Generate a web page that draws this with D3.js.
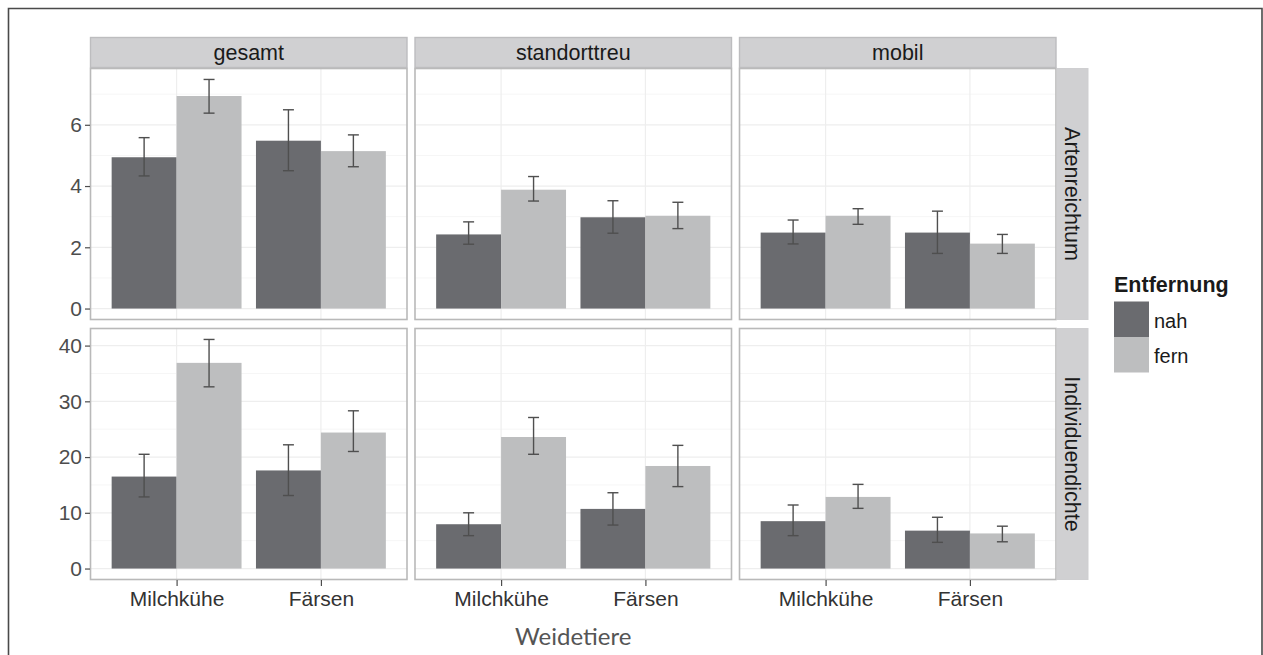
<!DOCTYPE html>
<html>
<head>
<meta charset="utf-8">
<script src="https://cdn.jsdelivr.net/npm/d3@7"></script>
<style>
  body { margin: 0; background: #fff; }
  text { font-family: "Liberation Sans", Arial, sans-serif; }
</style>
</head>
<body>
<div id="chart"></div>
<script>
var categories = ["Milchkühe", "Färsen"];
var groups = ["gesamt", "standorttreu", "mobil"];
var measures = ["Artenreichtum", "Individuendichte"];
var distances = ["nah", "fern"];

// order in each row: Milchkühe nah, Milchkühe fern, Färsen nah, Färsen fern
var artenMean = [[4.94, 6.94, 5.48, 5.14], [2.42, 3.88, 2.98, 3.03], [2.48, 3.03, 2.48, 2.12]];
var artenLow  = [[4.33, 6.38, 4.50, 4.63], [2.10, 3.51, 2.46, 2.61], [2.11, 2.75, 1.80, 1.80]];
var artenHigh = [[5.58, 7.48, 6.49, 5.67], [2.83, 4.31, 3.52, 3.47], [2.89, 3.26, 3.18, 2.42]];

var indivMean = [[16.5, 36.9, 17.6, 24.4], [7.95, 23.6, 10.7, 18.4], [8.5, 12.85, 6.8, 6.3]];
var indivLow  = [[12.85, 32.6, 13.1, 21.0], [5.9, 20.5, 7.8, 14.7], [5.9, 10.8, 4.7, 4.8]];
var indivHigh = [[20.5, 41.1, 22.2, 28.3], [10.0, 27.1, 13.6, 22.1], [11.4, 15.1, 9.2, 7.6]];

var artenTicks = [0, 2, 4, 6];
var indivTicks = [0, 10, 20, 30, 40];

var means = [artenMean, indivMean],
    lows = [artenLow, indivLow],
    highs = [artenHigh, indivHigh],
    yTicks = [artenTicks, indivTicks];

var W = 1263, H = 655;
var left = 90, panelW = 317.5, gap = 7,
    stripTop = 37, stripH = 31, rowTop = [68, 328], panelH = 252,
    rstripW = 32;
var color = d3.scaleOrdinal().domain(distances).range(["#6a6b6f", "#bdbebf"]);

var svg = d3.select("#chart").append("svg")
    .attr("width", W).attr("height", H);

// outer frame
svg.append("path")
    .attr("d", "M8.5," + H + "V8.5H1262V" + H)
    .attr("fill", "none").attr("stroke", "#4a4a4a").attr("stroke-width", 1.6);

// discrete x, with ggplot-like 0.6 expansion
var x = d3.scaleLinear().domain([0.4, 2.6]).range([0, panelW]);

measures.forEach(function(m, r) {
  var maxV = d3.max(highs[r], function(a) { return d3.max(a); });
  var pad = maxV * 0.05;
  var y = d3.scaleLinear().domain([-pad, maxV + pad]).range([panelH, 0]);
  var minor = yTicks[r].map(function(t, i) { return t + (yTicks[r][1] - yTicks[r][0]) / 2; })
      .filter(function(v) { return y(v) > 0; });

  groups.forEach(function(g, c) {
    var px = left + c * (panelW + gap), py = rowTop[r];
    var p = svg.append("g").attr("transform", "translate(" + px + "," + py + ")");

    p.append("rect").attr("width", panelW).attr("height", panelH).attr("fill", "#fff");

    // grid
    p.selectAll(".minor").data(minor).enter().append("line")
      .attr("x1", 0).attr("x2", panelW)
      .attr("y1", function(d) { return y(d); }).attr("y2", function(d) { return y(d); })
      .attr("stroke", "#f6f6f6").attr("stroke-width", 1);
    p.selectAll(".major").data(yTicks[r]).enter().append("line")
      .attr("x1", 0).attr("x2", panelW)
      .attr("y1", function(d) { return y(d); }).attr("y2", function(d) { return y(d); })
      .attr("stroke", "#eeeeee").attr("stroke-width", 1.2);
    p.selectAll(".vgrid").data([1, 2]).enter().append("line")
      .attr("x1", function(d) { return x(d); }).attr("x2", function(d) { return x(d); })
      .attr("y1", 0).attr("y2", panelH)
      .attr("stroke", "#eeeeee").attr("stroke-width", 1.2);

    var rows = [];
    categories.forEach(function(cat, ci) {
      distances.forEach(function(dist, di) {
        var k = ci * 2 + di;
        rows.push({cat: ci + 1, dist: dist, di: di,
                   v: means[r][c][k], lo: lows[r][c][k], hi: highs[r][c][k]});
      });
    });

    p.selectAll(".bar").data(rows).enter().append("rect")
      .attr("x", function(d) { return x(d.cat - 0.45 + d.di * 0.45); })
      .attr("width", x(0.45) - x(0))
      .attr("y", function(d) { return y(d.v); })
      .attr("height", function(d) { return y(0) - y(d.v); })
      .attr("fill", function(d) { return color(d.dist); });

    var eb = p.selectAll(".err").data(rows).enter().append("g")
      .attr("stroke", "#4f4f4f").attr("stroke-width", 1.4).attr("fill", "none");
    var cx = function(d) { return d.cat - 0.225 + d.di * 0.45; };
    eb.append("line")
      .attr("x1", function(d) { return x(cx(d)); }).attr("x2", function(d) { return x(cx(d)); })
      .attr("y1", function(d) { return y(d.lo); }).attr("y2", function(d) { return y(d.hi); });
    ["lo", "hi"].forEach(function(key) {
      eb.append("line")
        .attr("x1", function(d) { return x(cx(d) - 0.038); })
        .attr("x2", function(d) { return x(cx(d) + 0.038); })
        .attr("y1", function(d) { return y(d[key]); }).attr("y2", function(d) { return y(d[key]); });
    });

    p.append("rect").attr("x", 0.5).attr("y", 0.5)
      .attr("width", panelW - 1).attr("height", panelH - 1)
      .attr("fill", "none").attr("stroke", "#b9b9b9").attr("stroke-width", 1.6);

    // y axis on first column
    if (c === 0) {
      var ya = p.append("g").call(d3.axisLeft(y).tickValues(yTicks[r]).tickSize(5).tickPadding(3));
      ya.select(".domain").remove();
      ya.selectAll("line").attr("stroke", "#4d4d4d").attr("stroke-width", 1.2);
      ya.selectAll("text").attr("fill", "#4d4d4d").style("font-size", "21px")
        .style("font-family", "'Liberation Sans', Arial, sans-serif");
    }
    // x axis on bottom row
    if (r === measures.length - 1) {
      var xa = p.append("g").attr("transform", "translate(0," + panelH + ")")
        .call(d3.axisBottom(x).tickValues([1, 2]).tickFormat(function(d) { return categories[d - 1]; })
          .tickSize(6).tickPadding(5));
      xa.select(".domain").remove();
      xa.selectAll("line").attr("stroke", "#4d4d4d").attr("stroke-width", 1.2);
      xa.selectAll("text").attr("fill", "#333").style("font-size", "21px")
        .style("font-family", "'Liberation Sans', Arial, sans-serif");
    }

    // column strips
    if (r === 0) {
      var s = svg.append("g").attr("transform", "translate(" + px + "," + stripTop + ")");
      s.append("rect").attr("x", 0.5).attr("y", 0.5).attr("width", panelW - 1).attr("height", stripH - 1)
        .attr("fill", "#d0d0d2").attr("stroke", "#bdbdbf").attr("stroke-width", 1.4);
      s.append("text").attr("x", panelW / 2).attr("y", stripH / 2 + 7.5)
        .attr("text-anchor", "middle").attr("fill", "#1a1a1a").style("font-size", "21.5px").text(g);
    }
  });

  // row strip
  var rx = left + 3 * panelW + 2 * gap;
  var rs = svg.append("g").attr("transform", "translate(" + rx + "," + rowTop[r] + ")");
  rs.append("rect").attr("x", 0.5).attr("y", 0.5).attr("width", rstripW - 1).attr("height", panelH - 1)
    .attr("fill", "#d0d0d2").attr("stroke", "#cfcfd1").attr("stroke-width", 1);
  rs.append("text")
    .attr("transform", "translate(" + (rstripW / 2 - 7.5) + "," + (panelH / 2) + ") rotate(90)")
    .attr("text-anchor", "middle").attr("fill", "#1a1a1a").style("font-size", "21.5px").text(m);
});

// x axis title
svg.append("text")
  .attr("x", left + (3 * panelW + 2 * gap) / 2).attr("y", 645)
  .attr("text-anchor", "middle").attr("fill", "#555")
  .style("font-family", "Lato, 'Noto Sans', sans-serif").style("font-size", "24px")
  .text("Weidetiere");

// legend
var lg = svg.append("g").attr("transform", "translate(1114,0)");
lg.append("text").attr("x", 0).attr("y", 292)
  .attr("fill", "#1a1a1a").style("font-weight", "bold").style("font-size", "21.5px").text("Entfernung");
var keys = lg.selectAll(".key").data(distances).enter().append("g")
  .attr("transform", function(d, i) { return "translate(0," + (301.5 + i * 35.5) + ")"; });
keys.append("rect").attr("width", 35).attr("height", 35.5)
  .attr("fill", function(d) { return color(d); });
keys.append("text").attr("x", 40).attr("y", 26)
  .attr("fill", "#1a1a1a").style("font-size", "20px").text(function(d) { return d; });
</script>
</body>
</html>
